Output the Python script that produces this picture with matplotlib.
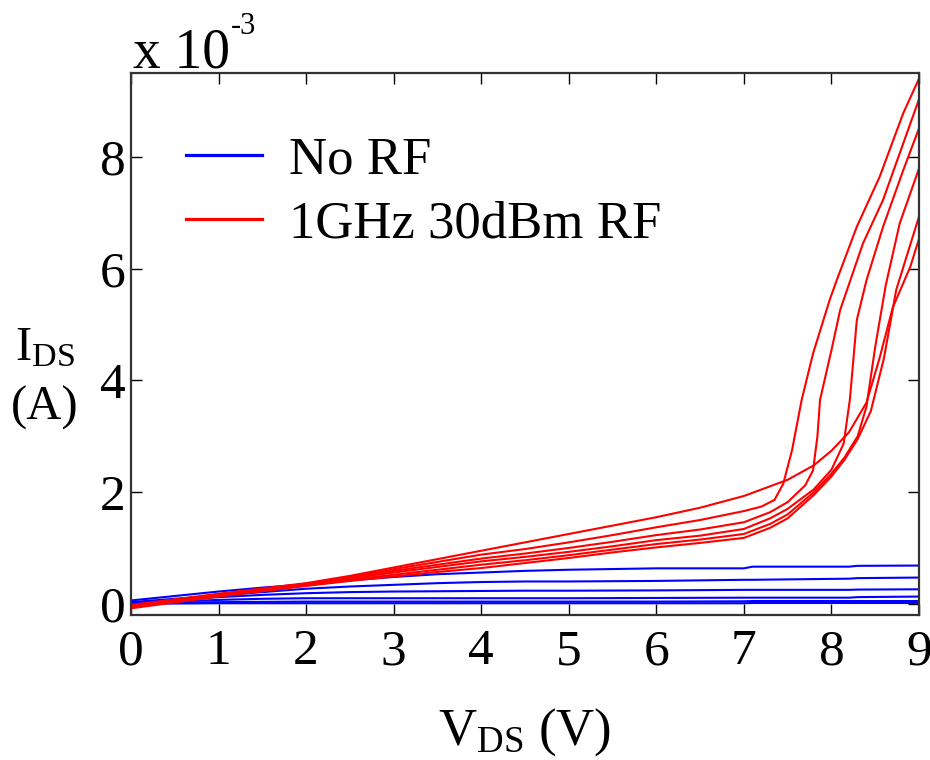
import matplotlib
matplotlib.use("Agg")
import matplotlib.pyplot as plt

plt.rcParams['font.family'] = ['Liberation Serif', 'DejaVu Serif']
plt.rcParams['mathtext.fontset'] = 'custom'
plt.rcParams['mathtext.rm'] = 'Liberation Serif'
plt.rcParams['mathtext.it'] = 'Liberation Serif:italic'

# ---- data (current in units of 1e-3 A) ----
blue_x = [0, 0.5, 1, 1.5, 2, 2.5, 3, 3.5, 4, 4.5, 5, 6, 7, 7.1, 8.2, 8.3, 9]
blue_1 = [0.06, 0.14, 0.22, 0.29, 0.35, 0.42, 0.48, 0.53, 0.56, 0.59, 0.61, 0.635, 0.635, 0.665, 0.665, 0.68, 0.685]
blue_2 = [0.03, 0.09, 0.15, 0.21, 0.27, 0.31, 0.34, 0.37, 0.39, 0.40, 0.40, 0.41, 0.43, 0.43, 0.45, 0.46, 0.47]
blue_3 = [0.02, 0.07, 0.12, 0.16, 0.19, 0.21, 0.22, 0.225, 0.23, 0.235, 0.235, 0.24, 0.25, 0.25, 0.25, 0.255, 0.26]
blue_4 = [0.01, 0.04, 0.07, 0.09, 0.10, 0.10, 0.10, 0.10, 0.10, 0.10, 0.10, 0.105, 0.11, 0.11, 0.11, 0.12, 0.13]
blue_5 = [0.00, 0.02, 0.03, 0.035, 0.04, 0.04, 0.04, 0.04, 0.04, 0.04, 0.04, 0.04, 0.045, 0.05, 0.05, 0.05, 0.05]
blue_6 = [0.00, 0.005, 0.01, 0.01, 0.01, 0.01, 0.01, 0.01, 0.01, 0.01, 0.01, 0.01, 0.01, 0.015, 0.015, 0.015, 0.015]

red_f_x = [0, 1, 2, 2.5, 3, 3.5, 4, 4.5, 5, 5.5, 6, 6.5, 7, 7.5, 7.8, 8.0, 8.2, 8.4, 8.55, 8.7, 8.9, 9.0]
red_f_y = [-0.02, 0.18, 0.37, 0.50, 0.65, 0.80, 0.95, 1.10, 1.25, 1.40, 1.55, 1.72, 1.93, 2.22, 2.48, 2.74, 3.07, 3.6, 4.4, 5.3, 6.03, 6.53]

red_a_x = [0, 1, 2, 2.5, 3, 3.5, 4, 4.5, 5, 5.5, 6, 6.5, 7, 7.2, 7.35, 7.45, 7.55, 7.66, 7.79, 7.98, 8.06, 8.29, 8.55, 8.82, 9.0]
red_a_y = [-0.03, 0.17, 0.36, 0.48, 0.62, 0.75, 0.88, 0.98, 1.10, 1.23, 1.37, 1.50, 1.66, 1.74, 1.86, 2.15, 2.75, 3.65, 4.48, 5.44, 5.79, 6.75, 7.64, 8.78, 9.40]

red_b_x = [0, 1, 2, 2.5, 3, 3.5, 4, 4.5, 5, 5.5, 6, 6.5, 7, 7.3, 7.5, 7.7, 7.79, 7.84, 7.87, 8.0, 8.10, 8.36, 8.59, 8.82, 9.0]
red_b_y = [-0.04, 0.16, 0.35, 0.46, 0.59, 0.70, 0.81, 0.90, 1.00, 1.11, 1.23, 1.33, 1.46, 1.64, 1.82, 2.12, 2.39, 3.0, 3.65, 4.54, 5.26, 6.45, 7.23, 8.24, 9.03]

red_c_x = [0, 1, 2, 2.5, 3, 3.5, 4, 4.5, 5, 5.5, 6, 6.5, 7, 7.3, 7.5, 7.8, 8.0, 8.14, 8.21, 8.29, 8.40, 8.59, 8.82, 9.0]
red_c_y = [-0.05, 0.15, 0.34, 0.45, 0.56, 0.66, 0.76, 0.84, 0.93, 1.03, 1.14, 1.22, 1.34, 1.53, 1.70, 2.05, 2.4, 2.87, 3.65, 5.08, 5.79, 6.75, 7.76, 8.51]

red_d_x = [0, 1, 2, 2.5, 3, 3.5, 4, 4.5, 5, 5.5, 6, 6.5, 7, 7.3, 7.5, 7.8, 8.0, 8.15, 8.3, 8.40, 8.5, 8.62, 8.78, 9.0]
red_d_y = [-0.06, 0.14, 0.33, 0.43, 0.52, 0.61, 0.70, 0.78, 0.87, 0.97, 1.07, 1.15, 1.25, 1.43, 1.60, 2.0, 2.33, 2.62, 3.0, 3.53, 4.6, 5.7, 6.81, 7.79]

red_e_x = [0, 1, 2, 2.5, 3, 3.5, 4, 4.5, 5, 5.5, 6, 6.5, 7, 7.3, 7.5, 7.8, 8.0, 8.15, 8.3, 8.45, 8.6, 8.74, 9.0]
red_e_y = [-0.08, 0.13, 0.32, 0.41, 0.49, 0.57, 0.64, 0.73, 0.82, 0.92, 1.01, 1.09, 1.18, 1.36, 1.53, 1.95, 2.28, 2.58, 2.95, 3.45, 4.4, 5.62, 6.93]

blue_series = [blue_1, blue_2, blue_3, blue_4, blue_5, blue_6]
red_series = [(red_f_x, red_f_y), (red_a_x, red_a_y), (red_b_x, red_b_y),
              (red_c_x, red_c_y), (red_d_x, red_d_y), (red_e_x, red_e_y)]

x_ticks = [0, 1, 2, 3, 4, 5, 6, 7, 8, 9]
y_ticks = [0, 2, 4, 6, 8]

fig = plt.figure(figsize=(9.3, 7.6), dpi=100)
ax = fig.add_axes([131/930, 1 - 615/760, (919-131)/930, (615-73)/760])

for i, ys in enumerate(blue_series):
    ax.plot(blue_x, ys, color='#0000ff', lw=1.5, label='No RF' if i == 0 else None)
for i, (xs, ys) in enumerate(red_series):
    ax.plot(xs, ys, color='#ff0000', lw=1.5, label='1GHz 30dBm RF' if i == 0 else None)

ax.set_xlim(0, 9)
ax.set_ylim(-0.2, 9.5)
ax.set_xticks(x_ticks)
ax.set_yticks(y_ticks)
ax.tick_params(direction='in', top=True, right=True, length=8, width=1,
               labelsize=37, colors='black')
ax.tick_params(axis='x', pad=10)
ax.tick_params(axis='y', pad=4)
for s in ax.spines.values():
    s.set_linewidth(1.6)
    s.set_color('#333333')

leg = ax.legend(loc='upper left', bbox_to_anchor=(0.009, 0.97), frameon=False,
                fontsize=38, handlelength=1.45, handletextpad=0.5, labelspacing=0.3)
for h in leg.get_lines():
    h.set_linewidth(2.3)

fig.text(525/930, 1 - 745/760, r'V$_{\mathrm{DS}}$ (V)', ha='center', va='baseline', fontsize=38)
fig.text(45/930, 1 - 360/760, r'I$_{\mathrm{DS}}$', ha='center', va='baseline', fontsize=35)
fig.text(45/930, 1 - 420/760, '(A)', ha='center', va='baseline', fontsize=35)
fig.text(133/930, 1 - 68/760, 'x 10', ha='left', va='baseline', fontsize=40)
fig.text(231/930, 1 - 34/760, '-3', ha='left', va='baseline', fontsize=22)

fig.savefig('out.png', dpi=100)
